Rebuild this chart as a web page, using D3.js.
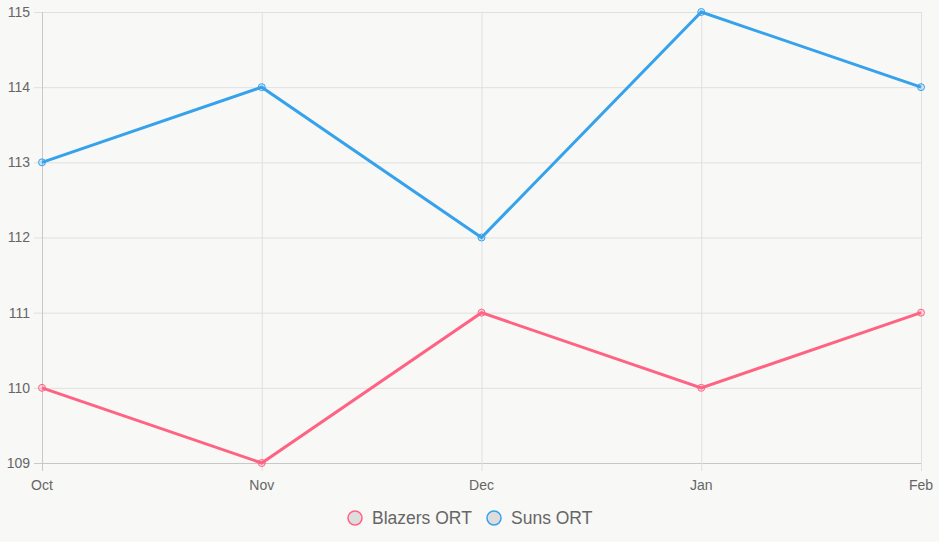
<!DOCTYPE html>
<html>
<head>
<meta charset="utf-8">
<script src="https://cdn.jsdelivr.net/npm/d3@7"></script>
<style>
  html, body { margin: 0; padding: 0; background: #f8f8f6; }
  svg { display: block; font-family: "Liberation Sans", Arial, sans-serif; }
</style>
</head>
<body>
<main></main>
<script>
const months = ["Oct", "Nov", "Dec", "Jan", "Feb"]
const blazers = [110, 109, 111, 110, 111]
const suns = [113, 114, 112, 115, 114]
const yTicks = [109, 110, 111, 112, 113, 114, 115]

const series = [
  { name: "Blazers ORT", values: blazers, color: "rgb(255, 99, 132)", fill: "rgba(255, 99, 132, 0.2)" },
  { name: "Suns ORT", values: suns, color: "rgb(54, 162, 235)", fill: "rgba(54, 162, 235, 0.2)" }
]

const width = 939
const height = 542
const margin = { top: 12, right: 18, bottom: 79, left: 42 }

let svg = d3.select("main")
  .append("svg")
  .attr("width", width)
  .attr("height", height)

let x = d3.scalePoint()
  .domain(months)
  .range([margin.left, width - margin.right])

let y = d3.scaleLinear()
  .domain([109, 115])
  .range([height - margin.bottom, margin.top])

// grid
svg.append("g")
  .selectAll("line")
  .data(yTicks)
  .join("line")
  .attr("x1", margin.left - 8)
  .attr("x2", width - margin.right)
  .attr("y1", d => y(d) + 0.5)
  .attr("y2", d => y(d) + 0.5)
  .attr("stroke", d => d === 109 ? "#c8c8c8" : "#e0e0e0")

svg.append("g")
  .selectAll("line")
  .data(months)
  .join("line")
  .attr("x1", d => x(d) + 0.5)
  .attr("x2", d => x(d) + 0.5)
  .attr("y1", margin.top)
  .attr("y2", height - margin.bottom + 8)
  .attr("stroke", (d, i) => i === 0 ? "#c8c8c8" : "#e0e0e0")

// tick labels
svg.append("g")
  .selectAll("text")
  .data(yTicks)
  .join("text")
  .attr("x", margin.left - 12)
  .attr("y", d => y(d))
  .attr("dy", "0.35em")
  .attr("text-anchor", "end")
  .attr("font-size", 14)
  .attr("fill", "#666")
  .text(d => d)

svg.append("g")
  .selectAll("text")
  .data(months)
  .join("text")
  .attr("x", d => x(d))
  .attr("y", height - margin.bottom + 27)
  .attr("text-anchor", "middle")
  .attr("font-size", 14)
  .attr("fill", "#666")
  .text(d => d)

// lines
let line = d3.line()
  .x((d, i) => x(months[i]))
  .y(d => y(d))

series.forEach(s => {
  svg.append("path")
    .datum(s.values)
    .attr("d", line)
    .attr("fill", "none")
    .attr("stroke", s.color)
    .attr("stroke-width", 3)
    .attr("stroke-linejoin", "miter")

  svg.append("g")
    .selectAll("circle")
    .data(s.values)
    .join("circle")
    .attr("cx", (d, i) => x(months[i]))
    .attr("cy", d => y(d))
    .attr("r", 3.5)
    .attr("fill", s.fill)
    .attr("stroke", s.color)
    .attr("stroke-width", 1)
})

// legend
let legend = svg.append("g")
let lx = [355, 494]
series.forEach((s, i) => {
  legend.append("circle")
    .attr("cx", lx[i])
    .attr("cy", 518)
    .attr("r", 7)
    .attr("fill", "#dddddd")
    .attr("stroke", s.color)
    .attr("stroke-width", 1.5)
  legend.append("text")
    .attr("x", lx[i] + 17)
    .attr("y", 518)
    .attr("dy", "0.35em")
    .attr("font-size", 17.5)
    .attr("fill", "#666")
    .text(s.name)
})
</script>
</body>
</html>
